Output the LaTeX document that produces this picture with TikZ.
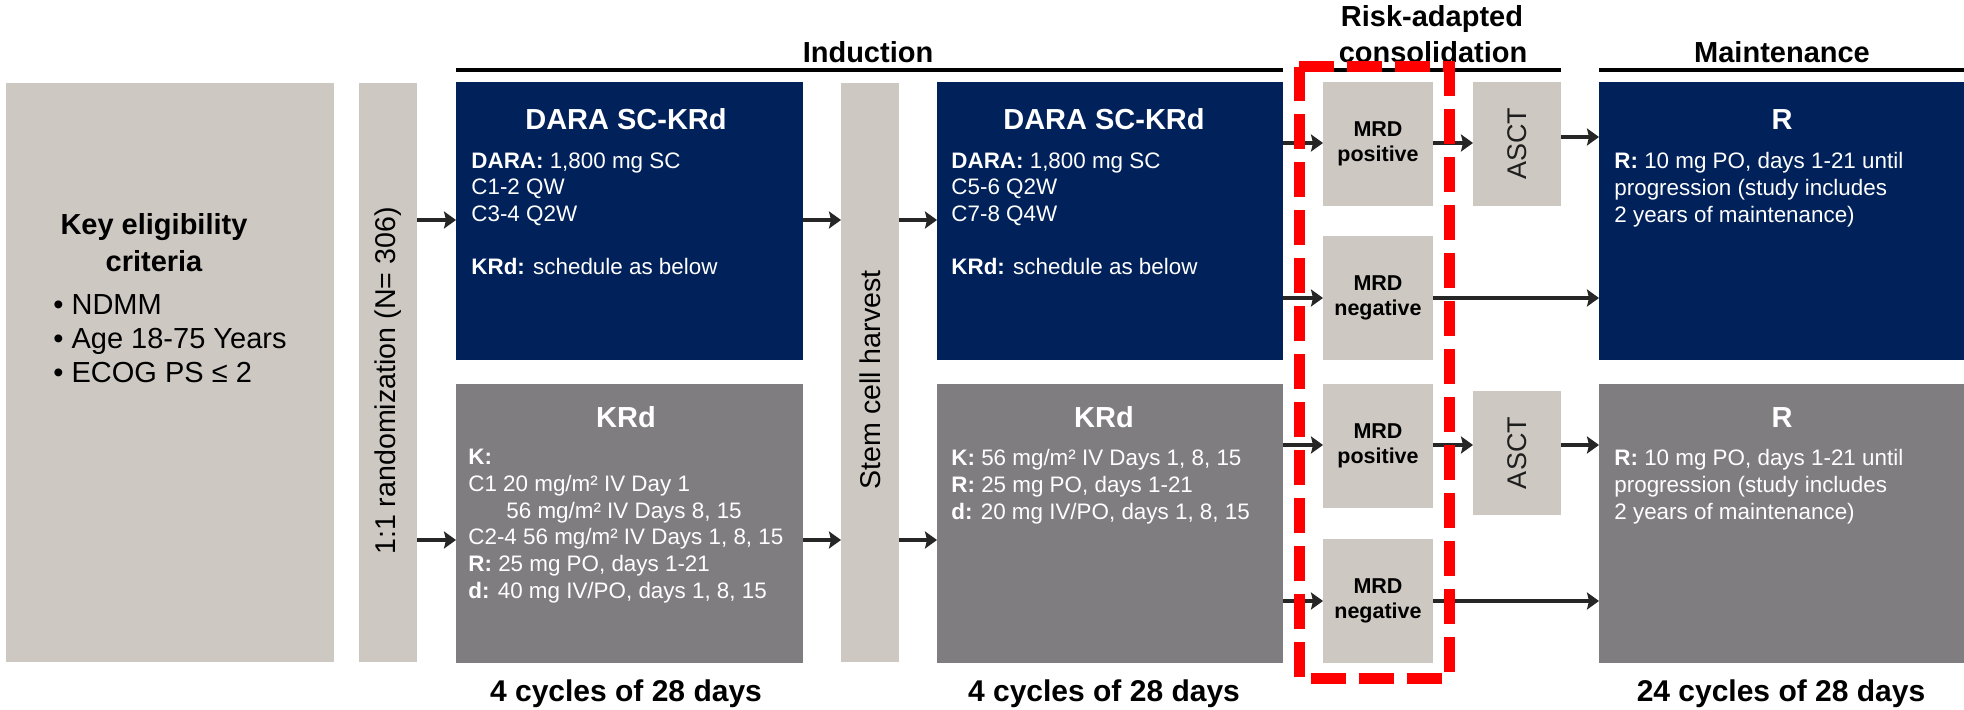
\documentclass[tikz,border=0pt]{standalone}
\usepackage{fontspec}
\setmainfont{Liberation Sans}
\usetikzlibrary{arrows.meta}
\definecolor{lightbox}{RGB}{205,200,194}
\definecolor{navy}{RGB}{0,33,90}
\definecolor{greybox}{RGB}{127,125,128}
\definecolor{ascttext}{RGB}{30,30,30}
\begin{document}
\begin{tikzpicture}[x=0.5pt,y=-0.5pt,
  box/.style={anchor=north west, inner sep=0, outer sep=0, draw=none},
  lbox/.style={box, fill=lightbox},
  nbox/.style={box, fill=navy},
  gbox/.style={box, fill=greybox},
  boxtitle/.style={anchor=base, text=white, font=\bfseries\fontsize{14.5}{17}\selectfont, inner sep=0},
  boxbody/.style={anchor=north west, align=left, text=white, font=\fontsize{11.2}{13.35}\selectfont, inner sep=0},
  header/.style={anchor=base, font=\bfseries\fontsize{14.5}{18}\selectfont, inner sep=0},
  cycles/.style={anchor=base, font=\bfseries\fontsize{15}{18}\selectfont, inner sep=0},
  keytext/.style={anchor=base, font=\bfseries\fontsize{14.5}{18}\selectfont, inner sep=0},
  bullet/.style={anchor=base west, font=\fontsize{14.5}{18}\selectfont, inner sep=0},
  mrdtext/.style={align=center, font=\bfseries\fontsize{10.75}{12.5}\selectfont, inner sep=0},
  vtext/.style={rotate=90, font=\fontsize{14.3}{17}\selectfont, inner sep=0},
  asctext/.style={rotate=90, text=ascttext, font=\fontsize{13.5}{16}\selectfont, inner sep=0},
  arr/.style={line width=2pt, draw=black!85, -{Stealth[length=6pt,width=8.5pt,inset=1pt]}},
  hline/.style={line width=2pt, draw=black},
  reddash/.style={draw=red, line width=5.5pt, dash pattern=on 17.5pt off 6.5pt}
]
\useasboundingbox (0,0) rectangle (1964,710);

% boxes
\node[lbox, minimum width=164pt, minimum height=289.5pt] (key) at (6,83) {};
\node[lbox, minimum width=29pt, minimum height=289.5pt] (rand) at (359,83) {};
\node[nbox, minimum width=173.5pt, minimum height=139pt] (dara1) at (456,82) {};
\node[gbox, minimum width=173.5pt, minimum height=139.5pt] (krd1) at (456,384) {};
\node[lbox, minimum width=29pt, minimum height=289.5pt] (stem) at (841,83) {};
\node[nbox, minimum width=173pt, minimum height=139pt] (dara2) at (937,82) {};
\node[gbox, minimum width=173pt, minimum height=139.5pt] (krd2) at (937,384) {};
\node[lbox, minimum width=55pt, minimum height=62pt] (mrdp1) at (1323,82) {};
\node[lbox, minimum width=55pt, minimum height=62pt] (mrdn1) at (1323,236) {};
\node[lbox, minimum width=55pt, minimum height=62pt] (mrdp2) at (1323,384) {};
\node[lbox, minimum width=55pt, minimum height=62pt] (mrdn2) at (1323,539) {};
\node[lbox, minimum width=44pt, minimum height=62pt] (ascct1) at (1473,82) {};
\node[lbox, minimum width=44pt, minimum height=62pt] (ascct2) at (1473,391) {};
\node[nbox, minimum width=182.5pt, minimum height=139pt] (r1) at (1599,82) {};
\node[gbox, minimum width=182.5pt, minimum height=139.5pt] (r2) at (1599,384) {};

% key eligibility
\node[keytext] (keyt1) at (154,235) {Key eligibility};
\node[keytext] (keyt2) at (154,272) {criteria};
\node[bullet] (kb1) at (53,315) {• NDMM};
\node[bullet] (kb2) at (53,349) {• Age 18-75 Years};
\node[bullet] (kb3) at (53,383) {• ECOG PS ≤ 2};

% vertical texts
\node[vtext] (randtext) at (388,381) {1:1 randomization (N= 306)};
\node[vtext] (stemtext) at (870,380) {Stem cell harvest};

% DARA 1
\node[boxtitle] (dara1t) at (626,130) {DARA SC-KRd};
\node[boxbody] (dara1b) at (471,152) {\textbf{DARA:} 1,800 mg SC\\C1-2 QW\\C3-4 Q2W\\[13.35pt]\textbf{KRd:} schedule as below};
% KRd 1
\node[boxtitle] (krd1t) at (626,428) {KRd};
\node[boxbody] (krd1b) at (468,449) {\textbf{K:}\\C1 20 mg/m² IV Day 1\\\hspace*{19pt}56 mg/m² IV Days 8, 15\\C2-4 56 mg/m² IV Days 1, 8, 15\\\textbf{R:} 25 mg PO, days 1-21\\\textbf{d:} 40 mg IV/PO, days 1, 8, 15};
% DARA 2
\node[boxtitle] (dara2t) at (1104,130) {DARA SC-KRd};
\node[boxbody] (dara2b) at (951,152) {\textbf{DARA:} 1,800 mg SC\\C5-6 Q2W\\C7-8 Q4W\\[13.35pt]\textbf{KRd:} schedule as below};
% KRd 2
\node[boxtitle] (krd2t) at (1104,428) {KRd};
\node[boxbody] (krd2b) at (951,449) {\textbf{K:} 56 mg/m² IV Days 1, 8, 15\\\textbf{R:} 25 mg PO, days 1-21\\\textbf{d:} 20 mg IV/PO, days 1, 8, 15};
% R boxes
\node[boxtitle] (r1t) at (1782,130) {R};
\node[boxbody] (r1b) at (1614,152) {\textbf{R:} 10 mg PO, days 1-21 until\\progression (study includes\\2 years of maintenance)};
\node[boxtitle] (r2t) at (1782,428) {R};
\node[boxbody] (r2b) at (1614,449) {\textbf{R:} 10 mg PO, days 1-21 until\\progression (study includes\\2 years of maintenance)};

% MRD texts
\node[mrdtext] (mrdp1t) at (mrdp1.center) {MRD\\positive};
\node[mrdtext] (mrdn1t) at (mrdn1.center) {MRD\\negative};
\node[mrdtext] (mrdp2t) at (mrdp2.center) {MRD\\positive};
\node[mrdtext] (mrdn2t) at (mrdn2.center) {MRD\\negative};
\node[asctext] (ascct1t) at (ascct1.center) {ASCT};
\node[asctext] (ascct2t) at (ascct2.center) {ASCT};

% headers
\node[header] (hind) at (868,63) {Induction};
\node[header] (hrisk) at (1432,27) {Risk-adapted};
\node[header] (hcons) at (1433,63) {consolidation};
\node[header] (hmain) at (1782,63) {Maintenance};
\coordinate (hy) at (0,70);
\draw[hline] (dara1.north west |- hy) -- (dara2.north east |- hy);
\draw[hline] (mrdp1.north west |- hy) ++(-27,0) -- (ascct1.north east |- hy);
\draw[hline] (r1.north west |- hy) -- (r1.north east |- hy);

% bottom labels
\node[cycles] (c1) at (626,701) {4 cycles of 28 days};
\node[cycles] (c2) at (1104,701) {4 cycles of 28 days};
\node[cycles] (c3) at (1781,701) {24 cycles of 28 days};

% arrows
\coordinate (yA) at (0,220);
\coordinate (yB) at (0,540);
\coordinate (y1) at (0,143);
\coordinate (y1b) at (0,137);
\coordinate (y2) at (0,298);
\coordinate (y3) at (0,445);
\coordinate (y4) at (0,601);
\draw[arr] (rand.east |- yA) -- (dara1.west |- yA);
\draw[arr] (dara1.east |- yA) -- (stem.west |- yA);
\draw[arr] (stem.east |- yA) -- (dara2.west |- yA);
\draw[arr] (rand.east |- yB) -- (krd1.west |- yB);
\draw[arr] (krd1.east |- yB) -- (stem.west |- yB);
\draw[arr] (stem.east |- yB) -- (krd2.west |- yB);
\draw[arr] (dara2.east |- y1) -- (mrdp1.west |- y1);
\draw[arr] (mrdp1.east |- y1) -- (ascct1.west |- y1);
\draw[arr] (ascct1.east |- y1b) -- (r1.west |- y1b);
\draw[arr] (dara2.east |- y2) -- (mrdn1.west |- y2);
\draw[arr] (mrdn1.east |- y2) -- (r1.west |- y2);
\draw[arr] (krd2.east |- y3) -- (mrdp2.west |- y3);
\draw[arr] (mrdp2.east |- y3) -- (ascct2.west |- y3);
\draw[arr] (ascct2.east |- y3) -- (r2.west |- y3);
\draw[arr] (krd2.east |- y4) -- (mrdn2.west |- y4);
\draw[arr] (mrdn2.east |- y4) -- (r2.west |- y4);

% red dashed frame
\coordinate (rtl) at (1299,67);
\coordinate (rbr) at (1449,678);
\draw[reddash] (rtl) -- (rtl -| rbr) -- (rbr) -- (rbr -| rtl) -- cycle;
\end{tikzpicture}
\end{document}
